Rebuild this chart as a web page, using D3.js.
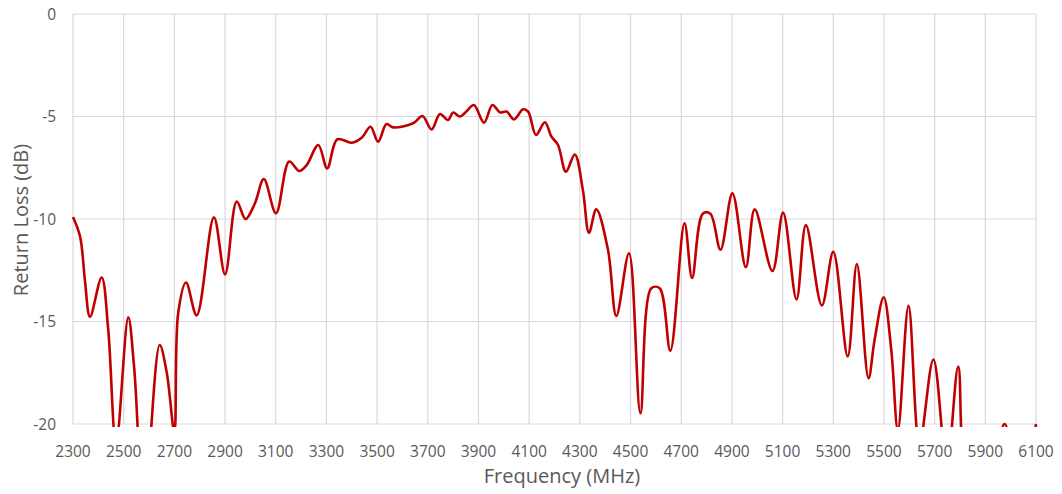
<!DOCTYPE html>
<html>
<head>
<meta charset="utf-8">
<script src="https://cdn.jsdelivr.net/npm/d3@7"></script>
<style>
	body { margin: 0; background: #fff; }
	text { font-family: "Open Sans", sans-serif; fill: #595959; }
</style>
</head>
<body>
<script>
// frequency (MHz) and return loss (dB)
var freq = [2300, 2328, 2347, 2367, 2413, 2439, 2470, 2518, 2541, 2580, 2642, 2670, 2700, 2715, 2746,
	2788, 2856, 2900, 2946, 2981, 3018, 3053, 3101, 3153, 3193, 3222, 3268, 3303, 3343, 3400,
	3440, 3474, 3504, 3537, 3563, 3642, 3679, 3715, 3748, 3780, 3800, 3827, 3853, 3882, 3922,
	3955, 3985, 4011, 4040, 4076, 4096, 4127, 4162, 4188, 4214, 4245, 4280, 4312, 4336, 4365,
	4411, 4444, 4494, 4539, 4582, 4615, 4657, 4713, 4743, 4785, 4815, 4855, 4902, 4955, 4990,
	5060, 5102, 5155, 5192, 5255, 5300, 5357, 5393, 5439, 5463, 5499, 5529, 5555, 5597, 5640,
	5695, 5748, 5793, 5830, 5900, 5976, 6040, 6100];
var loss = [-9.9, -10.86, -12.98, -14.77, -12.85, -15.4, -21, -14.8, -17.2, -24, -16.15, -17.5, -20.4, -14.6, -13.1,
	-14.7, -9.92, -12.7, -9.15, -10.0, -9.23, -8.05, -9.72, -7.2, -7.66, -7.37, -6.39, -7.53, -6.11, -6.28,
	-6.02, -5.5, -6.23, -5.37, -5.53, -5.33, -4.98, -5.63, -4.88, -5.17, -4.81, -5.0, -4.74, -4.44, -5.3,
	-4.44, -4.8, -4.76, -5.14, -4.65, -4.76, -5.9, -5.28, -5.98, -6.39, -7.69, -6.85, -8.59, -10.67, -9.53,
	-11.5, -14.73, -11.67, -19.48, -13.38, -13.38, -16.42, -10.21, -12.88, -9.74, -9.74, -11.5, -8.75, -12.35, -9.53,
	-12.54, -9.69, -13.92, -10.3, -14.22, -11.6, -16.7, -12.2, -17.77, -15.9, -13.82, -16.4, -20.3, -14.24, -21,
	-16.85, -22, -17.2, -23, -24, -20, -24, -20];

// axis ticks
var xTicks = d3.range(2300, 6101, 200);
var yTicks = [0, -5, -10, -15, -20];

window.onload = function(){
	var w = 1062, h = 494;
	var left = 73, right = 1036, top = 14, bottom = 424;

	var svg = d3.select("body")
		.append("svg")
		.attr("width", w)
		.attr("height", h);

	var x = d3.scaleLinear().domain([2300, 6100]).range([left, right]);
	var y = d3.scaleLinear().domain([-20, 0]).range([bottom, top]);

	// gridlines
	svg.append("g").selectAll("line")
		.data(xTicks)
		.enter()
		.append("line")
		.attr("x1", function(d){ return x(d); })
		.attr("x2", function(d){ return x(d); })
		.attr("y1", top)
		.attr("y2", bottom)
		.style("stroke", "#d9d9d9")
		.style("stroke-width", 1.2);

	svg.append("g").selectAll("line")
		.data(yTicks)
		.enter()
		.append("line")
		.attr("x1", left)
		.attr("x2", right)
		.attr("y1", function(d){ return y(d); })
		.attr("y2", function(d){ return y(d); })
		.style("stroke", "#d9d9d9")
		.style("stroke-width", 1.2);

	// tick labels
	svg.append("g").selectAll("text")
		.data(xTicks)
		.enter()
		.append("text")
		.attr("x", function(d){ return x(d); })
		.attr("y", 457)
		.attr("text-anchor", "middle")
		.style("font-size", "15.5px")
		.text(function(d){ return d; });

	svg.append("g").selectAll("text")
		.data(yTicks)
		.enter()
		.append("text")
		.attr("x", 56)
		.attr("y", function(d){ return y(d) + 5.5; })
		.attr("text-anchor", "end")
		.style("font-size", "15.5px")
		.text(function(d){ return d; });

	// axis titles
	svg.append("text")
		.attr("x", 562)
		.attr("y", 483)
		.attr("text-anchor", "middle")
		.style("font-size", "20px")
		.text("Frequency (MHz)");

	svg.append("text")
		.attr("transform", "translate(28," + 220 + ") rotate(-90)")
		.attr("text-anchor", "middle")
		.style("font-size", "20px")
		.text("Return Loss (dB)");

	// clip the curve at the plot area like the original
	svg.append("clipPath")
		.attr("id", "plotClip")
		.append("rect")
		.attr("x", left - 3)
		.attr("y", top - 3)
		.attr("width", right - left + 6)
		.attr("height", bottom - top + 6);

	var pts = freq.map(function(f, i){ return [f, loss[i]]; });

	var line = d3.line()
		.x(function(d){ return x(d[0]); })
		.y(function(d){ return y(d[1]); })
		.curve(d3.curveCatmullRom.alpha(0.5));

	svg.append("path")
		.datum(pts)
		.attr("d", line)
		.attr("clip-path", "url(#plotClip)")
		.style("fill", "none")
		.style("stroke", "#c00000")
		.style("stroke-width", 2.6)
		.style("stroke-linejoin", "round");
};
</script>
</body>
</html>
